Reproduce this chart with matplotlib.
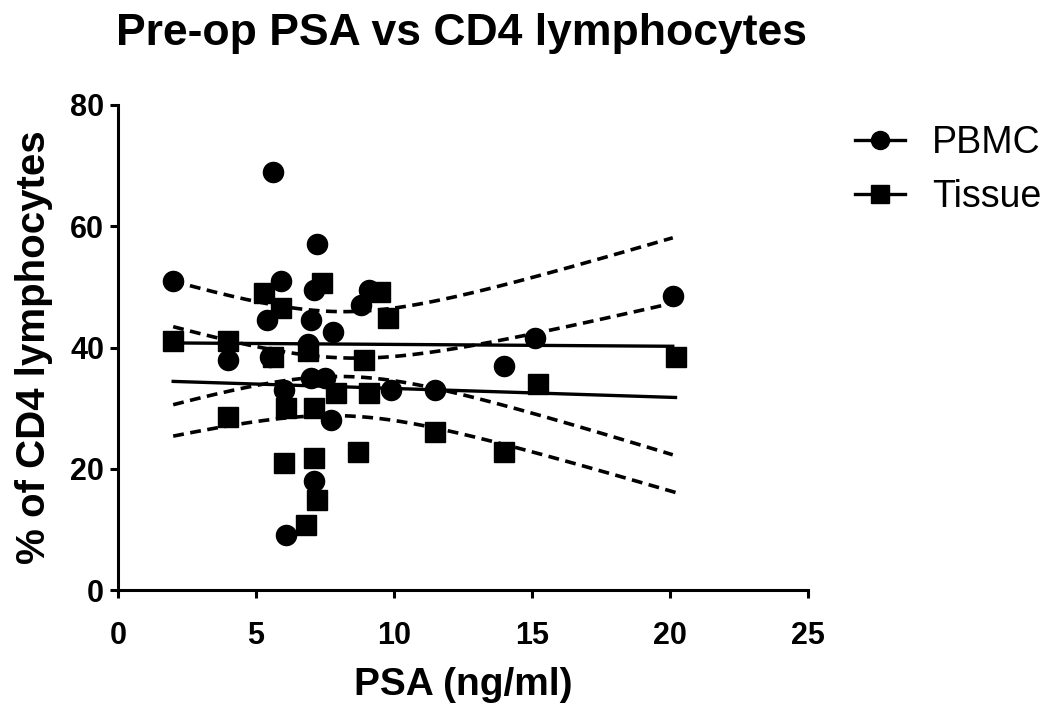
import numpy as np
import matplotlib
matplotlib.use("Agg")
import matplotlib.pyplot as plt
from matplotlib.lines import Line2D

plt.rcParams['font.family'] = ['Liberation Sans', 'DejaVu Sans']

# PBMC (circles)
pbmc_psa = [2.0, 4.0, 5.4, 5.6, 5.9, 5.5, 6.0, 6.1, 7.0, 7.2, 7.1, 7.0, 7.1,
            7.8, 7.5, 7.7, 8.8, 9.1, 9.9, 11.5, 14.0, 15.1, 20.1, 6.9]
pbmc_cd4 = [51.0, 38.0, 44.5, 69.0, 51.0, 38.5, 33.0, 9.1, 44.5, 57.0, 49.5, 35.0, 18.0,
            42.5, 35.0, 28.0, 47.0, 49.5, 33.0, 33.0, 37.0, 41.5, 48.5, 40.5]

# Tissue (squares)
tissue_psa = [2.0, 4.0, 4.0, 5.3, 5.9, 5.6, 6.0, 6.1, 6.9, 6.8, 7.1, 7.2, 7.4,
              7.1, 7.9, 8.7, 8.9, 9.1, 9.5, 9.8, 11.5, 14.0, 15.2, 20.2]
tissue_cd4 = [41.0, 41.0, 28.5, 49.0, 46.5, 38.5, 21.0, 30.0, 39.5, 10.7, 21.8, 14.8, 50.7,
              30.0, 32.5, 22.8, 38.0, 32.5, 49.2, 44.9, 26.0, 22.8, 34.0, 38.5]

T95 = {21: 2.080, 22: 2.074, 23: 2.069}


def fit_with_band(x, y):
    x = np.asarray(x, float)
    y = np.asarray(y, float)
    n = len(x)
    slope, intercept = np.polyfit(x, y, 1)
    resid = y - (slope * x + intercept)
    s = np.sqrt(np.sum(resid ** 2) / (n - 2))
    xs = np.linspace(x.min(), x.max(), 200)
    yf = slope * xs + intercept
    se = s * np.sqrt(1.0 / n + (xs - x.mean()) ** 2 / np.sum((x - x.mean()) ** 2))
    t = T95.get(n - 2, 2.07)
    return xs, yf, yf - t * se, yf + t * se


fig = plt.figure(figsize=(10.45, 7.05), dpi=100)
ax = fig.add_axes([118 / 1045, 1 - 590 / 705, 690 / 1045, 485 / 705])

lw = 2.4
dash = (0, (3.0, 1.8))
for x, y, m in [(pbmc_psa, pbmc_cd4, 'o'), (tissue_psa, tissue_cd4, 's')]:
    xs, yf, lo, hi = fit_with_band(x, y)
    ax.plot(xs, yf, color='black', lw=lw, zorder=2)
    ax.plot(xs, lo, color='black', lw=2.6, ls=dash, zorder=2)
    ax.plot(xs, hi, color='black', lw=2.6, ls=dash, zorder=2)
    ax.plot(x, y, ls='none', marker=m, color='black', markersize=14.5 if m == 'o' else 15,
            zorder=3, clip_on=False)

ax.set_xlim(0, 25)
ax.set_ylim(0, 80)
ax.set_xticks([0, 5, 10, 15, 20, 25])
ax.set_yticks([0, 20, 40, 60, 80])
for side in ['top', 'right']:
    ax.spines[side].set_visible(False)
for side in ['left', 'bottom']:
    ax.spines[side].set_linewidth(2.2)
ax.tick_params(width=2.2, length=6, labelsize=22)
ax.tick_params(axis='x', pad=16)
ax.tick_params(axis='y', pad=4)
for lab in ax.get_xticklabels() + ax.get_yticklabels():
    lab.set_fontweight('bold')

ax.set_xlabel('PSA (ng/ml)', fontsize=28, fontweight='bold', labelpad=12)
ax.set_ylabel('% of CD4 lymphocytes', fontsize=29, fontweight='bold', labelpad=12)
fig.text(461 / 1045, 1 - 33 / 705, 'Pre-op PSA vs CD4 lymphocytes', fontsize=32,
         fontweight='bold', ha='center', va='center')

handles = [Line2D([0], [0], color='black', lw=lw, marker='o', markersize=13),
           Line2D([0], [0], color='black', lw=lw, marker='s', markersize=13)]
fig.legend(handles, ['PBMC', 'Tissue'], loc='upper left', bbox_to_anchor=(855 / 1045, 1 - 125 / 705),
           frameon=False, fontsize=27, handlelength=1.33, labelspacing=0.47, handletextpad=0.72,
           borderpad=0, borderaxespad=0)

fig.savefig('out.png', dpi=100)
